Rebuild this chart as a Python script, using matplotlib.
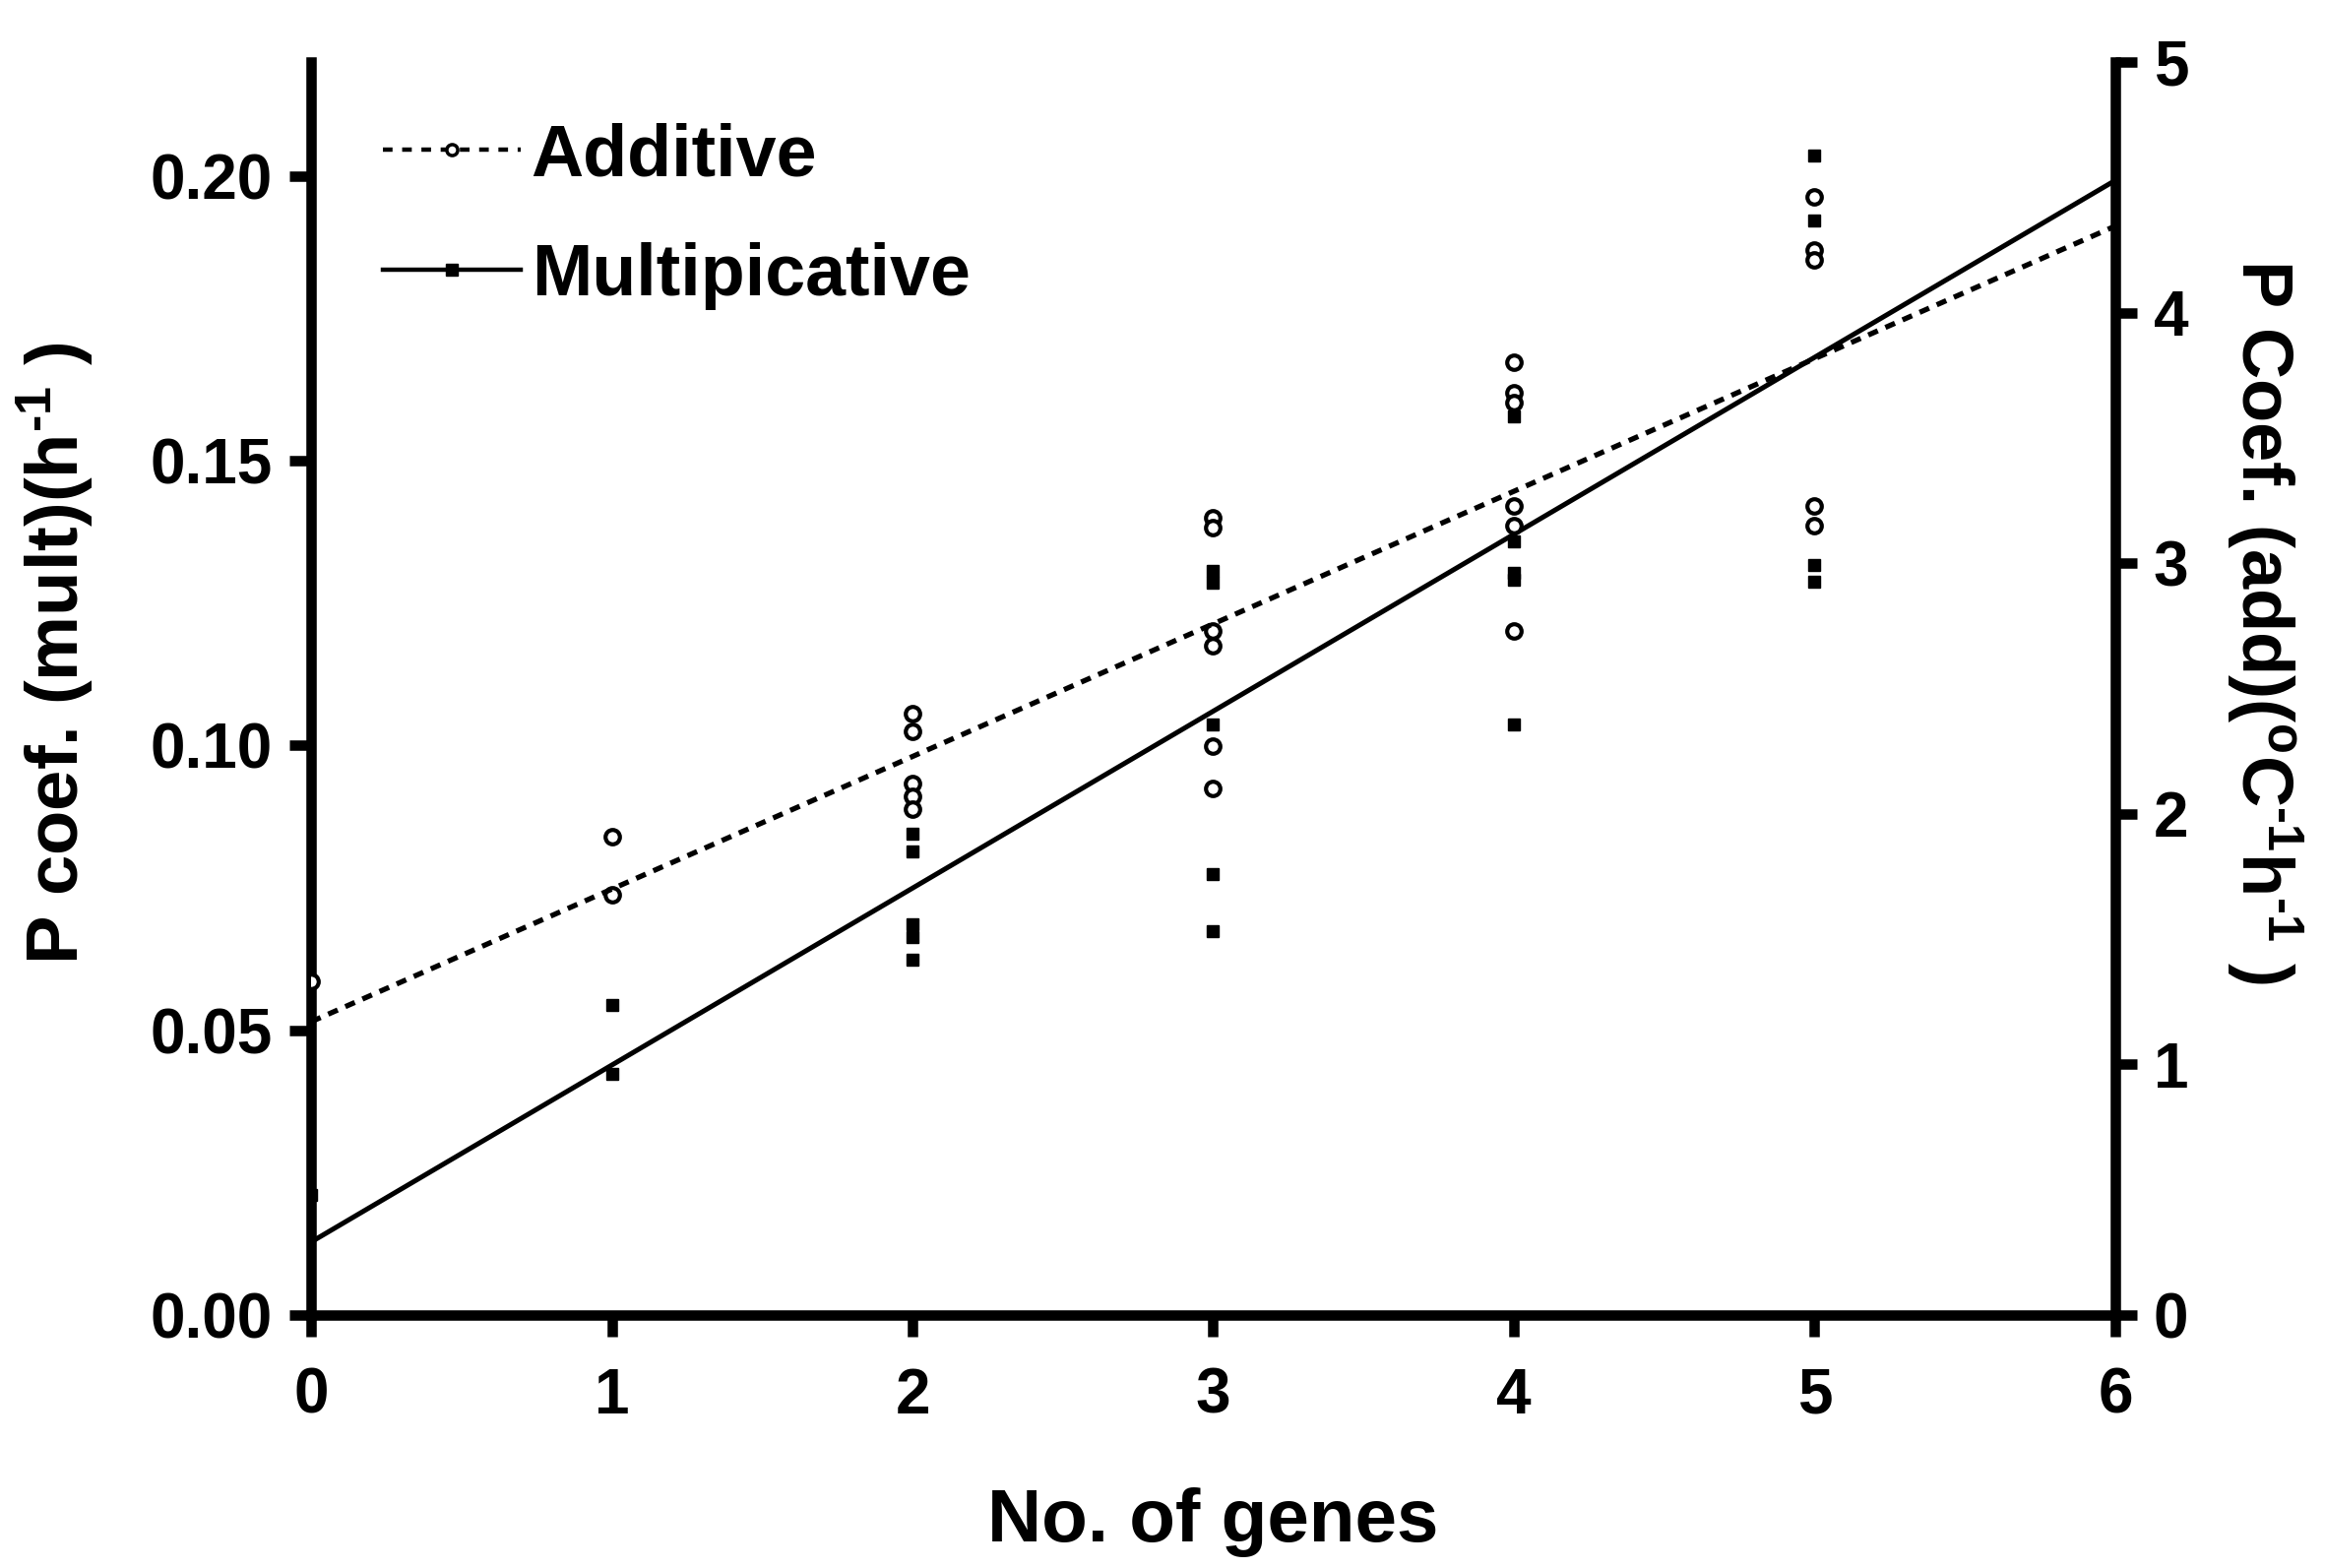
import matplotlib
matplotlib.use('Agg')
import matplotlib.pyplot as plt

plt.rcParams['font.family'] = ['Liberation Sans', 'DejaVu Sans']
plt.rcParams['font.weight'] = 'bold'
plt.rcParams['mathtext.fontset'] = 'custom'
plt.rcParams['mathtext.rm'] = 'Liberation Sans:bold'
plt.rcParams['mathtext.bf'] = 'Liberation Sans:bold'
plt.rcParams['mathtext.default'] = 'rm'

# ── datos ─────────────────────────────────────────────────
# Additive (eje derecho, °C-1 h-1)
add_x = [0, 1, 1, 2, 2, 2, 2, 2, 3, 3, 3, 3, 3, 3,
         4, 4, 4, 4, 4, 4, 5, 5, 5, 5, 5]
add_y = [1.33, 1.91, 1.675, 2.40, 2.33, 2.12, 2.07, 2.02,
         3.18, 3.14, 2.73, 2.67, 2.27, 2.10,
         3.80, 3.68, 3.64, 3.23, 3.15, 2.73,
         4.46, 4.25, 4.21, 3.23, 3.15]

# Multiplicative (eje izquierdo, h-1)
mult_x = [0, 1, 1, 2, 2, 2, 2, 2, 3, 3, 3, 3, 3,
          4, 4, 4, 4, 4, 5, 5, 5, 5]
mult_y = [0.021, 0.0545, 0.0424, 0.0845, 0.0813, 0.0686, 0.0664, 0.0623,
          0.1306, 0.1286, 0.1036, 0.0774, 0.0673,
          0.1577, 0.1358, 0.1303, 0.1291, 0.1036,
          0.2036, 0.1921, 0.1317, 0.1287]

# rectas de regresión (extremos x=0 y x=6)
fit_x = [0, 6]
add_fit = [1.17, 4.345]
mult_fit = [0.0128, 0.1992]

fig = plt.figure(figsize=(23.62, 15.93), dpi=100)
ax = fig.add_axes([0.1338, 0.1614, 0.7760, 0.7991])
ax2 = ax.twinx()

# ── multiplicativo (izquierda) ────────────────────────────
ax.plot(mult_x, mult_y, 's', color='black', ms=9, mec='black', ls='none')
ax.plot(fit_x, mult_fit, '-', color='black', lw=3.6)

# ── aditivo (derecha) ─────────────────────────────────────
ax2.plot(add_x, add_y, 'o', mfc='white', mec='black', mew=3.0, ms=10.5, ls='none')
ax2.plot(fit_x, add_fit, color='black', lw=3.8, ls=(0, (2.0, 1.6)))

ax.set_xlim(0, 6)
ax.set_ylim(0, 0.22)
ax2.set_ylim(0, 5)
ax.set_xticks(range(7))
ax.set_yticks([0, 0.05, 0.10, 0.15, 0.20])
ax.set_yticklabels(['0.00', '0.05', '0.10', '0.15', '0.20'])
ax2.set_yticks(range(6))

for a in (ax, ax2):
    a.spines['top'].set_visible(False)
    for s in ('left', 'right', 'bottom'):
        a.spines[s].set_linewidth(7.6)
    a.tick_params(width=7.6, length=16, labelsize=46, direction='out', pad=12)
ax.spines['right'].set_visible(False)
ax2.spines['left'].set_visible(False)
ax2.spines['bottom'].set_visible(False)
for lab in ax.get_xticklabels() + ax.get_yticklabels() + ax2.get_yticklabels():
    lab.set_fontweight('bold')
ax.tick_params(axis='x', pad=22)

ax.set_xlabel('No. of genes', fontsize=55, fontweight='bold', labelpad=45)
ax.set_ylabel('P coef. (mult)(h$^{\u2010 1}$ )', fontsize=53.5, fontweight='bold', labelpad=40)
ax2.set_ylabel('P Coef. (add)($^{o}$C$^{\u2010 1}$h$^{\u2010 1}$ )', fontsize=52,
               fontweight='bold', rotation=270, labelpad=85)
ax.yaxis.label.set_y(0.528)
ax2.yaxis.label.set_y(0.553)

# leyenda
h_add, = ax.plot([], [], color='black', lw=3.2, ls=(0, (2.2, 2.2)),
                 marker='o', mfc='white', mec='black', mew=2.5, ms=8)
h_mult, = ax.plot([], [], color='black', lw=3.2, marker='s', ms=8)
leg = ax.legend([h_add, h_mult], ['Additive', 'Multipicative'],
                loc='upper left', bbox_to_anchor=(0.024, 0.975), frameon=False,
                fontsize=53, handlelength=1.9, handletextpad=0.14,
                labelspacing=0.72, numpoints=1, borderaxespad=0)
for t in leg.get_texts():
    t.set_fontweight('bold')

fig.savefig('out.png', dpi=100)
